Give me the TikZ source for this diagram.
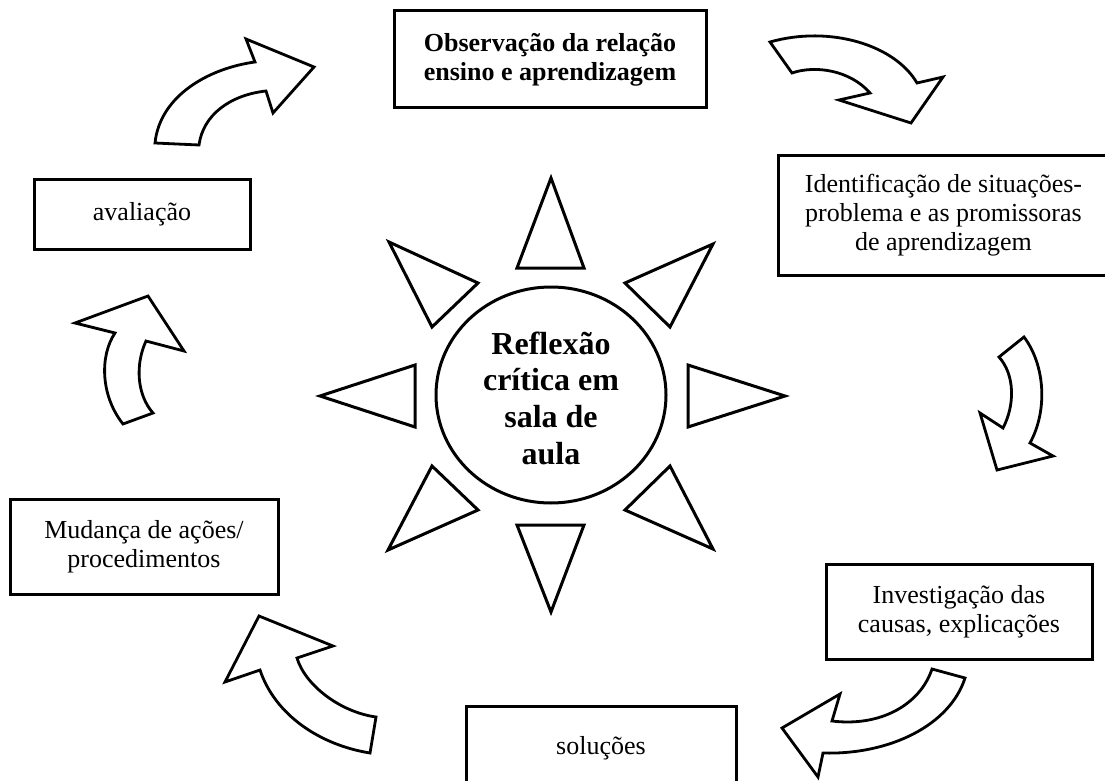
\documentclass[tikz,border=0pt]{standalone}
\usepackage{fontspec}
\setmainfont{Liberation Serif}
\usetikzlibrary{shapes.geometric}
\begin{document}
\begin{tikzpicture}[x=1pt,y=-1pt,
  box/.style={draw, line width=3pt, align=center, inner sep=0pt, font=\fontsize{26}{29}\selectfont},
  tri/.style={draw, line width=3pt, line join=miter},
  carrow/.style={draw, line width=2.8pt, fill=white, line join=miter}]
\useasboundingbox (0,0) rectangle (1105,781);
\clip (0,0) rectangle (1105,781);
% boxes
\node[box, minimum width=312pt, minimum height=97pt, font=\bfseries\fontsize{26}{29}\selectfont] (obs) at (550,59.5) {Observação da relação\\ensino e aprendizagem};
\node[box, minimum width=331pt, minimum height=120pt] (ident) at (943.5,215) {Identificação de situações-\\problema e as promissoras\\de aprendizagem};
\node[box, minimum width=216pt, minimum height=70pt] (aval) at (142,214) {avaliação};
\node[box, minimum width=268pt, minimum height=95pt] (mud) at (144,547) {Mudança de ações/\\procedimentos};
\node[box, minimum width=266pt, minimum height=95pt] (inv) at (959,612) {Investigação das\\causas, explicações};
\node[box, minimum width=270pt, minimum height=84pt] (sol) at (601,748) {soluções};
% center
\node[draw, ellipse, line width=3pt, inner sep=0pt, minimum width=230pt, minimum height=216pt] (ref) at (551,395) {};
\node[align=center, inner sep=0pt, font=\bfseries\fontsize{32}{36.7}\selectfont] (reftext) at (551,398) {Reflexão\\crítica em\\sala de\\aula};
% rays
\draw[tri] (551,178) -- (584,268) -- (517,268) -- cycle;
\draw[tri] (551,612) -- (584,525) -- (517,525) -- cycle;
\draw[tri] (320,396) -- (415,365) -- (415,427) -- cycle;
\draw[tri] (785,396) -- (688,365) -- (688,427) -- cycle;
\draw[tri] (389,242) -- (478,283) -- (432,327) -- cycle;
\draw[tri] (713,244) -- (625,283) -- (670,327) -- cycle;
\draw[tri] (432,466) -- (478,510) -- (388,550) -- cycle;
\draw[tri] (670,466) -- (625,510) -- (713,549) -- cycle;
% curved arrows
\draw[carrow] (155,143) .. controls (160,95) and (210,68) .. (255,62) -- (246,39) -- (314,67) -- (273,113) -- (266,91) .. controls (230,95) and (203,115) .. (199,145) -- cycle;
\draw[carrow] (770,42) .. controls (830,25) and (895,45) .. (917,83) -- (943,77) -- (911,123) -- (839,100) -- (870,93) .. controls (850,70) and (815,65) .. (792,73) -- cycle;
\draw[carrow] (1024,337) .. controls (1045,365) and (1048,410) .. (1030,443) -- (1053,456) -- (997,470) -- (980,413) -- (1003,428) .. controls (1015,405) and (1015,375) .. (999,357) -- cycle;
\draw[carrow] (965,678) .. controls (950,725) and (890,755) .. (823,753) -- (818,777) -- (782,728) -- (840,694) -- (832,721) .. controls (880,727) and (920,705) .. (932,669) -- cycle;
\draw[carrow] (370,753) .. controls (320,745) and (275,715) .. (260,670) -- (225,682) -- (259,616) -- (333,646) -- (297,658) .. controls (305,685) and (340,712) .. (376,717) -- cycle;
\draw[carrow] (123,424) .. controls (100,395) and (100,355) .. (115,333) -- (75,323) -- (148,296) -- (184,351) -- (146,341) .. controls (135,365) and (137,395) .. (153,413) -- cycle;
\end{tikzpicture}
\end{document}
